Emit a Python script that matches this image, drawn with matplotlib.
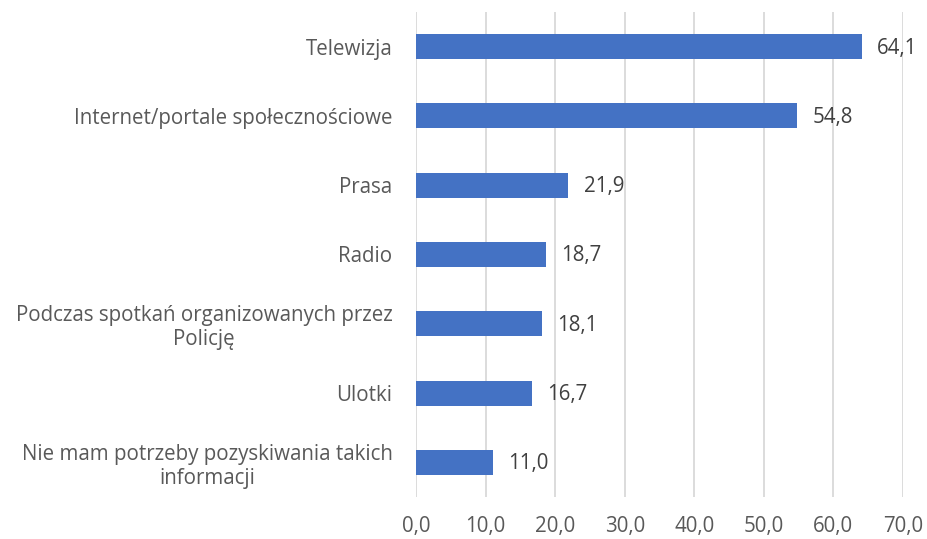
import matplotlib.pyplot as plt

kategorie = [
    "Telewizja",
    "Internet/portale społecznościowe",
    "Prasa",
    "Radio",
    "Podczas spotkań organizowanych przez\nPolicję",
    "Ulotki",
    "Nie mam potrzeby pozyskiwania takich\ninformacji",
]
wartosci = [64.1, 54.8, 21.9, 18.7, 18.1, 16.7, 11.0]
ticki_x = [0, 10, 20, 30, 40, 50, 60, 70]

KOLOR_TEKSTU = "#595959"
KOLOR_SIATKI = "#D9D9D9"
ROZMIAR = 14.8

plt.rcParams['font.family'] = ['Open Sans', 'DejaVu Sans']

fig = plt.figure(figsize=(9.27, 5.39), dpi=100)
ax = fig.add_axes([416 / 927, 1 - 497 / 539, 487 / 927, 485 / 539])

pozycje = list(range(len(kategorie)))[::-1]
ax.barh(pozycje, wartosci, height=0.36, color="#4472C4", zorder=3)

for y, v in zip(pozycje, wartosci):
    ax.annotate(f"{v:.1f}".replace(".", ","), (v, y), xytext=(11, -1),
                textcoords="offset points", va="center", ha="left",
                fontsize=ROZMIAR, color="#404040")

ax.set_xlim(0, 70)
ax.set_ylim(-0.5, len(kategorie) - 0.5)
ax.set_xticks(ticki_x)
ax.set_xticklabels([f"{t:.1f}".replace(".", ",") for t in ticki_x])
ax.set_yticks(pozycje)
ax.set_yticklabels(kategorie, multialignment="center", linespacing=1.2)

ax.tick_params(axis="both", length=0, labelsize=ROZMIAR, colors=KOLOR_TEKSTU)
ax.tick_params(axis="y", pad=17)
ax.tick_params(axis="x", pad=14)

ax.grid(axis="x", color=KOLOR_SIATKI, linewidth=1.3, zorder=0)
for s in ax.spines.values():
    s.set_visible(False)

fig.savefig("out.png", dpi=100)
